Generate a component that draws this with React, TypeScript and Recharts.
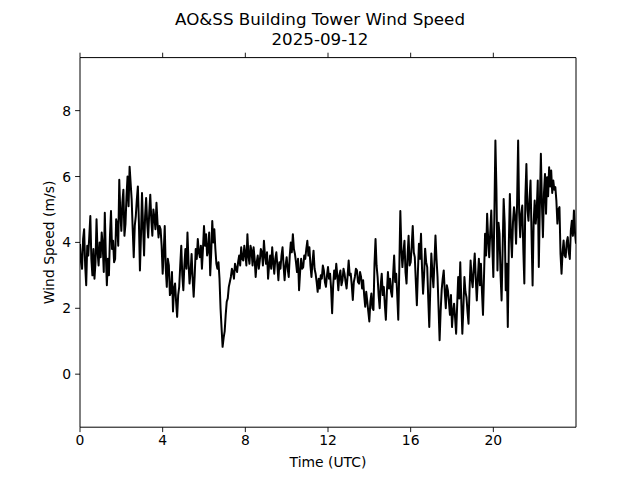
import { Line, LineChart, XAxis, YAxis } from "recharts";

const FONT = "DejaVu Sans, sans-serif";

const TITLE = "AO&SS Building Tower Wind Speed";
const DATE_LABEL = "2025-09-12";
const X_LABEL = "Time (UTC)";
const Y_LABEL = "Wind Speed (m/s)";

const X_TICKS = [0, 4, 8, 12, 16, 20];
const Y_TICKS = [0, 2, 4, 6, 8];
const X_DOMAIN: [number, number] = [0, 24];
const Y_DOMAIN: [number, number] = [-1.61, 9.61];

// one reading every 3 minutes in 4-hour blocks (20 per hour)
const STEP_HOURS = 0.05;

const speed00to04 = [
  3.95, 3.4, 3.2, 4.1, 4.4, 3.3, 2.7, 3.9, 3.6, 4.2, 4.8, 3.5, 3.0, 3.8, 2.9, 3.4, 4.7, 3.7, 3.3, 4.0,
  3.55, 4.3, 3.9, 3.1, 4.9, 3.6, 2.7, 3.5, 3.0, 4.2, 4.95, 3.8, 4.05, 3.4, 3.5, 4.7, 4.55, 3.9, 5.9, 4.9,
  4.35, 5.2, 5.6, 4.2, 4.55, 5.4, 6.0, 5.1, 6.3, 5.8, 5.3, 4.4, 3.55, 4.5, 4.8, 5.3, 5.7, 4.6, 3.15, 4.2,
  5.5, 4.5, 3.6, 4.8, 5.35, 4.6, 4.15, 4.9, 5.45, 4.7, 4.2, 5.0, 4.75, 4.4, 5.2, 4.6, 4.15, 4.5, 4.4, 3.9,
];
const speed04to08 = [
  3.05, 3.7, 4.5, 3.2, 2.65, 3.5, 3.3, 2.4, 2.5, 3.1, 1.9, 2.6, 2.75, 2.2, 1.74, 2.4, 2.65, 3.3, 3.9, 3.0,
  2.55, 3.3, 3.8, 3.2, 4.3, 3.4, 2.75, 3.1, 3.65, 2.9, 2.35, 3.0, 3.8, 3.5, 4.1, 3.7, 3.55, 3.9, 3.2, 3.8,
  4.5, 3.9, 4.25, 3.6, 3.75, 4.3, 3.0, 3.7, 4.65, 4.0, 4.4, 3.8, 3.35, 3.2, 3.4, 2.9, 2.0, 1.4, 0.83, 1.1,
  1.3, 1.8, 2.2, 2.3, 2.65, 2.8, 2.95, 3.2, 3.1, 2.9, 3.35, 3.2, 3.1, 3.4, 3.6, 3.3, 3.85, 3.5, 3.45, 3.9,
];
const speed08to12 = [
  3.65, 3.3, 4.25, 3.6, 3.35, 3.9, 3.75, 3.3, 3.85, 3.5, 2.95, 3.4, 3.6, 3.2, 3.45, 3.8, 3.7, 3.3, 4.05, 3.6,
  3.35, 3.7, 2.9, 3.3, 3.6, 3.2, 3.85, 3.4, 3.05, 3.5, 3.7, 3.3, 2.85, 3.4, 3.2, 3.6, 3.85, 3.3, 2.85, 3.3,
  3.55, 3.2, 2.95, 3.6, 4.0, 3.7, 4.25, 3.8, 3.65, 3.4, 3.1, 3.5, 2.55, 3.1, 3.5, 3.2, 3.25, 3.6, 3.5, 3.8,
  4.05, 3.6, 3.85, 3.3, 2.95, 3.4, 3.75, 3.2, 3.05, 2.8, 2.5, 2.9, 2.6, 3.0, 2.9, 3.3, 3.15, 2.8, 2.65, 3.0,
];
const speed12to16 = [
  3.25, 2.9, 3.05, 2.6, 1.85, 2.7, 3.15, 2.9, 3.35, 3.0, 2.55, 3.0, 3.15, 2.7, 2.85, 3.2, 3.05, 2.8, 2.6, 3.0,
  3.45, 3.0, 3.05, 2.7, 2.25, 2.8, 2.95, 3.2, 3.15, 2.8, 2.75, 3.1, 2.95, 2.6, 2.85, 2.4, 2.05, 2.5, 2.2, 1.9,
  1.6, 2.2, 2.45, 2.0, 1.95, 3.35, 4.1, 3.3, 2.95, 2.4, 2.0, 2.7, 3.05, 2.4, 2.65, 2.1, 1.65, 2.5, 3.1, 2.6,
  2.9, 2.5, 2.35, 3.0, 3.6, 2.8, 3.05, 2.4, 1.65, 3.2, 4.95, 3.8, 3.25, 3.7, 4.05, 3.1, 2.75, 3.6, 4.2, 3.3,
];
const speed16to20 = [
  3.4, 3.9, 4.5, 3.7, 3.55, 2.8, 2.09, 3.1, 3.96, 3.5, 4.26, 3.2, 2.44, 3.0, 3.81, 3.4, 3.25, 2.3, 1.43, 2.6,
  3.66, 3.1, 2.64, 3.4, 4.21, 3.5, 2.95, 2.0, 1.03, 1.9, 2.55, 2.9, 3.15, 2.5, 2.0, 2.7, 2.55, 2.2, 1.8, 2.4,
  1.43, 1.9, 2.14, 1.7, 1.23, 2.1, 2.95, 2.3, 3.4, 2.2, 1.23, 2.0, 2.95, 2.5, 2.34, 1.9, 1.53, 2.6, 3.45, 2.9,
  2.64, 3.2, 3.66, 2.9, 2.24, 2.9, 3.5, 2.7, 3.35, 2.5, 1.8, 3.0, 4.26, 3.6, 4.87, 4.1, 3.55, 4.3, 4.97, 3.9,
];
const speed20to24 = [
  2.95, 4.8, 7.09, 5.6, 3.15, 4.6, 4.26, 3.0, 2.24, 3.8, 5.32, 4.57, 2.55, 3.35, 1.43, 3.96, 5.47, 4.2, 3.55, 4.6,
  5.07, 4.76, 3.96, 5.2, 7.09, 4.9, 4.16, 4.87, 5.12, 3.8, 2.75, 5.37, 6.38, 5.0, 4.66, 5.3, 5.88, 4.2, 2.69, 4.6,
  5.27, 4.57, 4.97, 5.88, 3.25, 5.1, 6.69, 5.2, 4.16, 5.5, 6.08, 4.87, 5.98, 5.4, 6.28, 5.7, 6.18, 5.5, 5.88, 5.6,
  5.68, 5.27, 4.57, 5.0, 5.07, 3.66, 3.05, 3.7, 4.06, 3.6, 3.55, 4.0, 4.16, 3.7, 3.5, 4.36, 4.66, 4.2, 4.97, 4.3,
  3.96,
];

const speeds = [
  ...speed00to04,
  ...speed04to08,
  ...speed08to12,
  ...speed12to16,
  ...speed16to20,
  ...speed20to24,
];

const data = speeds.map((speed, i) => ({
  hour: Math.round(i * STEP_HOURS * 100) / 100,
  speed,
}));

// matplotlib default subplot box on a 640x480 figure
const PLOT_LEFT = 80;
const PLOT_RIGHT = 576;
const PLOT_TOP = 57.6;
const PLOT_BOTTOM = 427.2;
const TOP_AXIS_H = 10;

const TICK_LEN = 4.9;
const TICK_FONT = 13.9;

function BottomTick({ x, y, payload }: any) {
  return (
    <g>
      <line x1={x} x2={x} y1={y} y2={y + TICK_LEN} stroke="#000" strokeWidth={0.9} />
      <text x={x} y={y + 18} textAnchor="middle" fontSize={TICK_FONT} fontFamily={FONT} fill="#000">
        {payload.value}
      </text>
    </g>
  );
}

function TopTick({ x, y }: any) {
  return <line x1={x} x2={x} y1={y - TICK_LEN} y2={y} stroke="#000" strokeWidth={0.9} />;
}

function LeftTick({ x, y, payload }: any) {
  return (
    <g>
      <line x1={x - TICK_LEN} x2={x} y1={y} y2={y} stroke="#000" strokeWidth={0.9} />
      <text x={x - 9} y={y + 5} textAnchor="end" fontSize={TICK_FONT} fontFamily={FONT} fill="#000">
        {payload.value}
      </text>
    </g>
  );
}

export default function App() {
  const midY = (PLOT_TOP + PLOT_BOTTOM) / 2;
  const midX = (PLOT_LEFT + PLOT_RIGHT) / 2;
  const yLabelX = 54.5;

  return (
    <div style={{ position: "absolute", left: 0, top: 0, width: 640, height: 480, background: "#fff" }}>
      <LineChart
        width={640}
        height={480}
        data={data}
        margin={{ top: PLOT_TOP - TOP_AXIS_H, right: 0, bottom: 0, left: 0 }}
      >
        <XAxis
          dataKey="hour"
          type="number"
          domain={X_DOMAIN}
          ticks={X_TICKS}
          interval={0}
          height={480 - PLOT_BOTTOM}
          tickSize={0}
          tickMargin={0}
          tickLine={false}
          tick={<BottomTick />}
          axisLine={{ stroke: "#000", strokeWidth: 1 }}
          allowDataOverflow
        />
        <XAxis
          xAxisId="top"
          orientation="top"
          dataKey="hour"
          type="number"
          domain={X_DOMAIN}
          ticks={X_TICKS}
          interval={0}
          height={TOP_AXIS_H}
          tickSize={0}
          tickMargin={0}
          tickLine={false}
          tick={<TopTick />}
          axisLine={{ stroke: "#000", strokeWidth: 1 }}
          allowDataOverflow
        />
        <YAxis
          yAxisId="left"
          type="number"
          domain={Y_DOMAIN}
          ticks={Y_TICKS}
          interval={0}
          width={PLOT_LEFT}
          tickSize={0}
          tickMargin={0}
          tickLine={false}
          tick={<LeftTick />}
          axisLine={{ stroke: "#000", strokeWidth: 1 }}
          allowDataOverflow
        />
        <YAxis
          yAxisId="right"
          orientation="right"
          type="number"
          domain={Y_DOMAIN}
          width={640 - PLOT_RIGHT}
          tick={false}
          tickLine={false}
          axisLine={{ stroke: "#000", strokeWidth: 1 }}
          allowDataOverflow
        />
        <Line
          yAxisId="left"
          type="linear"
          dataKey="speed"
          stroke="#000"
          strokeWidth={2}
          strokeLinejoin="round"
          dot={false}
          activeDot={false}
          isAnimationActive={false}
        />
      </LineChart>
      <svg
        width={640}
        height={480}
        style={{ position: "absolute", left: 0, top: 0, pointerEvents: "none" }}
        fontFamily={FONT}
        fill="#000"
      >
        <text x={320} y={25} textAnchor="middle" fontSize={16.7}>
          {TITLE}
        </text>
        <text x={320} y={45} textAnchor="middle" fontSize={16.7}>
          {DATE_LABEL}
        </text>
        <text x={midX} y={466.7} textAnchor="middle" fontSize={TICK_FONT}>
          {X_LABEL}
        </text>
        <text
          x={yLabelX}
          y={midY}
          textAnchor="middle"
          fontSize={TICK_FONT}
          transform={`rotate(-90 ${yLabelX} ${midY})`}
        >
          {Y_LABEL}
        </text>
      </svg>
    </div>
  );
}
